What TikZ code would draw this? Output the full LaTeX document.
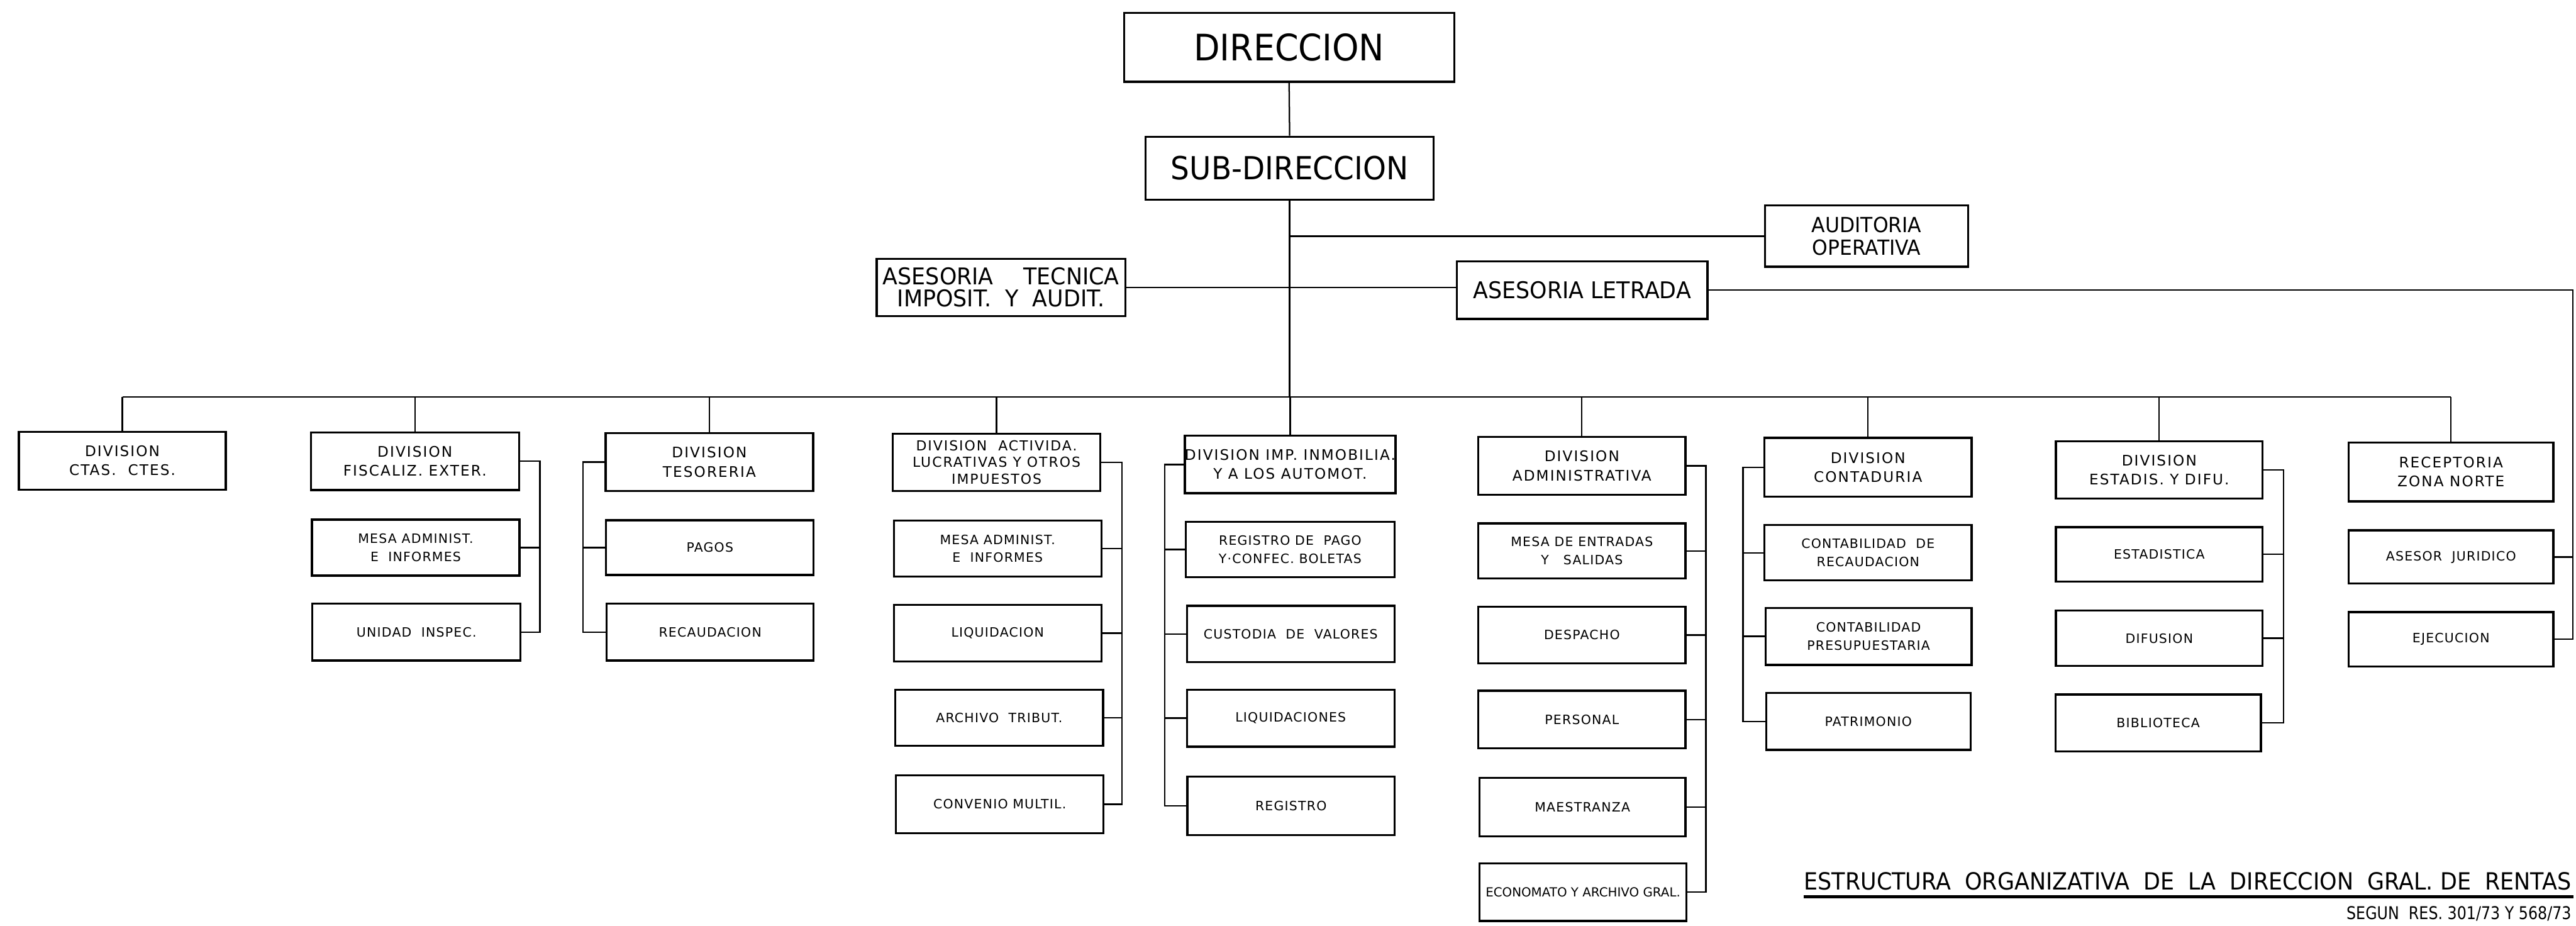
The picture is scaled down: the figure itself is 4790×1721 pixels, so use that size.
\documentclass[tikz,border=0pt]{standalone}
\usepackage{fontspec}
\setmainfont{DejaVu Sans}
\newfontfamily\bigf[FakeStretch=0.93]{DejaVu Sans}
\newfontfamily\topf[FakeStretch=0.95]{DejaVu Sans}
\newfontfamily\divf[LetterSpace=9]{DejaVu Sans}
\newfontfamily\smf[LetterSpace=6]{DejaVu Sans}
\newfontfamily\ttlf[FakeStretch=0.93]{DejaVu Sans}
\newfontfamily\sgnf[FakeStretch=0.85]{DejaVu Sans}
\tikzset{
  box/.style={draw, line width=1.1pt, align=center, inner sep=0pt},
  dirtxt/.style={font=\bigf\fontsize{19.3}{22}\selectfont},
  subdtxt/.style={font=\bigf\fontsize{16.8}{20}\selectfont},
  toptxt/.style={font=\topf\fontsize{11}{12.2}\selectfont},
  asestxt/.style={font=\topf\fontsize{12.2}{11.6}\selectfont},
  divtxt/.style={font=\divf\fontsize{7.7}{10}\selectfont},
  div3txt/.style={font=\divf\fontsize{7.3}{8.8}\selectfont},
  subtxt/.style={font=\smf\fontsize{6.8}{9.4}\selectfont},
  econtxt/.style={font=\fontsize{6.6}{9.4}\selectfont},
  ln/.style={line width=0.75pt},
}
\newcommand\obox[7]{\node[box,#7,minimum width={(#4-#2)*0.01cm},minimum height={(#5-#3)*0.01cm}] (#1) at ({(#2+#4)/2},{(#3+#5)/2}) {#6};}
\begin{document}
\begin{tikzpicture}[x=0.01cm,y=-0.01cm]
\path[fill=white,use as bounding box] (0,0) rectangle (4790,1721);
% top
\obox{dir}{2090}{24}{2704}{152}{DIRECCION}{dirtxt}
\obox{sub}{2130}{254}{2666}{371}{SUB-DIRECCION}{subdtxt}
\obox{aud}{3282}{382}{3660}{496}{AUDITORIA\\OPERATIVA}{toptxt}
\obox{tec}{1630}{481}{2093}{588}{ASESORIA\quad\ TECNICA\\IMPOSIT.\ \ Y\ \ AUDIT.}{asestxt}
\obox{let}{2709}{486}{3175}{593}{ASESORIA LETRADA}{asestxt}
% divisions
\obox{d1}{35}{803}{420}{910}{DIVISION\\CTAS.\ \ CTES.}{divtxt}
\obox{d2}{578}{804}{965}{911}{DIVISION\\FISCALIZ. EXTER.}{divtxt}
\obox{d2a}{580}{966}{966}{1070}{MESA ADMINIST.\\E\ \ INFORMES}{subtxt}
\obox{d2b}{581}{1122}{968}{1228}{UNIDAD\ \ INSPEC.}{subtxt}
\obox{d3}{1126}{805}{1512}{913}{DIVISION\\TESORERIA}{divtxt}
\obox{d3a}{1127}{967}{1513}{1069}{PAGOS}{subtxt}
\obox{d3b}{1128}{1122}{1513}{1228}{RECAUDACION}{subtxt}
\obox{d4}{1660}{806}{2046}{913}{DIVISION\ \ ACTIVIDA.\\LUCRATIVAS Y OTROS\\IMPUESTOS}{div3txt}
\obox{d4a}{1662}{968}{2048}{1072}{MESA ADMINIST.\\E\ \ INFORMES}{subtxt}
\obox{d4b}{1662}{1124}{2048}{1230}{LIQUIDACION}{subtxt}
\obox{d4c}{1665}{1282}{2051}{1386}{ARCHIVO\ \ TRIBUT.}{subtxt}
\obox{d4d}{1666}{1441}{2052}{1549}{CONVENIO MULTIL.}{subtxt}
\obox{d5}{2205}{810}{2593}{917}{DIVISION IMP. INMOBILIA.\\Y A LOS AUTOMOT.}{divtxt}
\obox{d5a}{2205}{970}{2593}{1073}{REGISTRO DE\ \ PAGO\\Y·CONFEC. BOLETAS}{subtxt}
\obox{d5b}{2207}{1126}{2593}{1231}{CUSTODIA\ \ DE\ \ VALORES}{subtxt}
\obox{d5c}{2207}{1282}{2593}{1388}{LIQUIDACIONES}{subtxt}
\obox{d5d}{2208}{1444}{2593}{1552}{REGISTRO}{subtxt}
\obox{d6}{2749}{812}{3134}{920}{DIVISION\\ADMINISTRATIVA}{divtxt}
\obox{d6a}{2749}{973}{3134}{1075}{MESA DE ENTRADAS\\Y\ \ \ SALIDAS}{subtxt}
\obox{d6b}{2749}{1128}{3134}{1233}{DESPACHO}{subtxt}
\obox{d6c}{2749}{1284}{3134}{1391}{PERSONAL}{subtxt}
\obox{d6d}{2751}{1446}{3134}{1555}{MAESTRANZA}{subtxt}
\obox{d6e}{2751}{1605}{3136}{1712}{ECONOMATO Y ARCHIVO GRAL.}{econtxt}
\obox{d7}{3281}{814}{3666}{923}{DIVISION\\CONTADURIA}{divtxt}
\obox{d7a}{3281}{976}{3666}{1079}{CONTABILIDAD\ \ DE\\RECAUDACION}{subtxt}
\obox{d7b}{3283}{1130}{3666}{1236}{CONTABILIDAD\\PRESUPUESTARIA}{subtxt}
\obox{d7c}{3284}{1288}{3664}{1394}{PATRIMONIO}{subtxt}
\obox{d8}{3823}{820}{4207}{927}{DIVISION\\ESTADIS. Y DIFU.}{divtxt}
\obox{d8a}{3823}{980}{4207}{1081}{ESTADISTICA}{subtxt}
\obox{d8b}{3823}{1135}{4207}{1238}{DIFUSION}{subtxt}
\obox{d8c}{3822}{1291}{4204}{1397}{BIBLIOTECA}{subtxt}
\obox{d9}{4367}{823}{4748}{932}{RECEPTORIA\\ZONA NORTE}{divtxt}
\obox{d9a}{4367}{986}{4748}{1085}{ASESOR\ \ JURIDICO}{subtxt}
\obox{d9b}{4367}{1138}{4748}{1239}{EJECUCION}{subtxt}
% helper coordinates
\coordinate (bus) at (0,738);
\coordinate (b2) at (1004,0);
\coordinate (b3) at (1084,0);
\coordinate (b4) at (2086,0);
\coordinate (b5) at (2166,0);
\coordinate (b6) at (3172,0);
\coordinate (b7) at (3241,0);
\coordinate (b8) at (4246,0);
\coordinate (b9) at (4784,0);
% top connectors
\draw[ln] (dir.south) -- (sub.north);
\draw[ln] (sub.south) -- (sub.south |- bus);
\draw[ln] (aud.west) -- (aud.west -| sub.south);
\draw[ln] (tec.east) -- (tec.east -| let.west);
\draw[ln] (let.east) -- (let.east -| b9) |- (d9b.east);
\draw[ln] (d9a.east) -- (d9a.east -| b9);
% bus
\draw[ln] (d1.north |- bus) -- (d9.north |- bus);
\foreach \n in {d1,d2,d3,d4,d5,d6,d7,d8,d9}
  \draw[ln] (\n.north) -- (\n.north |- bus);
% brackets
\draw[ln] (d2.east) -- (d2.east -| b2) |- (d2b.east);
\draw[ln] (d2a.east) -- (d2a.east -| b2);
\draw[ln] (d3.west) -- (d3.west -| b3) |- (d3b.west);
\draw[ln] (d3a.west) -- (d3a.west -| b3);
\draw[ln] (d4.east) -- (d4.east -| b4) |- (d4d.east);
\foreach \n in {d4a,d4b,d4c} \draw[ln] (\n.east) -- (\n.east -| b4);
\draw[ln] (d5.west) -- (d5.west -| b5) |- (d5d.west);
\foreach \n in {d5a,d5b,d5c} \draw[ln] (\n.west) -- (\n.west -| b5);
\draw[ln] (d6.east) -- (d6.east -| b6) |- (d6e.east);
\foreach \n in {d6a,d6b,d6c,d6d} \draw[ln] (\n.east) -- (\n.east -| b6);
\draw[ln] (d7.west) -- (d7.west -| b7) |- (d7c.west);
\foreach \n in {d7a,d7b} \draw[ln] (\n.west) -- (\n.west -| b7);
\draw[ln] (d8.east) -- (d8.east -| b8) |- (d8c.east);
\foreach \n in {d8a,d8b} \draw[ln] (\n.east) -- (\n.east -| b8);
% title
\node[anchor=base east, inner sep=0pt, font=\ttlf\fontsize{12.5}{14}\selectfont] (title) at (4782,1654)
  {ESTRUCTURA\ \ ORGANIZATIVA\ \ DE\ \ LA\ \ DIRECCION\ \ GRAL.\ DE\ \ RENTAS};
\draw[line width=1.4pt] ([yshift=-0.13cm]title.base west) -- ([yshift=-0.13cm,xshift=0.03cm]title.base east);
\node[anchor=base east, inner sep=0pt, font=\sgnf\fontsize{9.3}{11}\selectfont] (subt) at (4782,1709)
  {SEGUN\ \ RES. 301/73 Y 568/73};
\end{tikzpicture}
\end{document}
